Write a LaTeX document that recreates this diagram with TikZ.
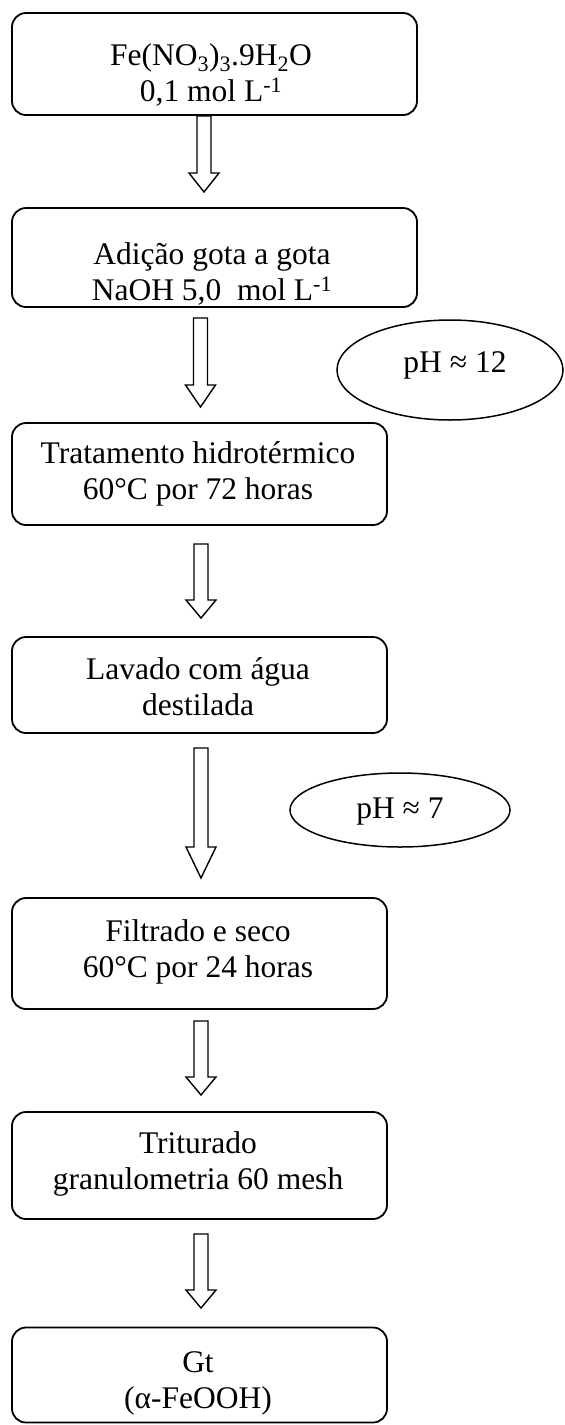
\documentclass[tikz,border=0pt]{standalone}
\usepackage{fontspec}
\setmainfont{Liberation Serif}
\usetikzlibrary{shapes.geometric}
\newcommand\blockarrow[4]{%
  \draw[arrowline] ({#1-7},#2) -- ({#1+7},#2) -- ({#1+7},#3) -- ({#1+15},#3)
    -- (#1,#4) -- ({#1-15},#3) -- ({#1-7},#3) -- cycle;}
\begin{document}
\begin{tikzpicture}[x=1pt,y=-1pt,
  stepbox/.style={draw, line width=1.8pt, rounded corners=14pt, inner sep=0pt},
  boxtext/.style={align=center, inner sep=0pt, font=\fontsize{31.5}{36}\selectfont},
  phellipse/.style={draw, ellipse, line width=1.5pt, inner sep=0pt},
  phtext/.style={inner sep=0pt, font=\fontsize{31.5}{36}\selectfont},
  arrowline/.style={draw, line width=1.4pt, line join=miter}]
\useasboundingbox (0,0) rectangle (565,1425);

% boxes
\node[stepbox, minimum width=405pt, minimum height=102pt] (b1) at (214.5,64) {};
\node[stepbox, minimum width=405pt, minimum height=99pt] (b2) at (214.5,257.5) {};
\node[stepbox, minimum width=375pt, minimum height=102pt] (b3) at (199.5,474) {};
\node[stepbox, minimum width=375pt, minimum height=96pt] (b4) at (199.5,685) {};
\node[stepbox, minimum width=375pt, minimum height=111pt] (b5) at (199.5,953.5) {};
\node[stepbox, minimum width=375pt, minimum height=107pt] (b6) at (199.5,1165.5) {};
\node[stepbox, minimum width=375pt, minimum height=95pt] (b7) at (199.5,1375) {};

% texts
\node[boxtext] (t1) at (211,75) {Fe(NO\textsubscript{3})\textsubscript{3}.9H\textsubscript{2}O\\0,1 mol L\textsuperscript{-1}};
\node[boxtext] (t2) at (212,274) {Adição gota a gota\\NaOH 5,0~ mol L\textsuperscript{-1}};
\node[boxtext] (t3) at (198,474) {Tratamento hidrotérmico\\60°C por 72 horas};
\node[boxtext] (t4) at (198,687) {Lavado com água\\destilada};
\node[boxtext] (t5) at (198,952) {Filtrado e seco\\60°C por 24 horas};
\node[boxtext] (t6) at (198,1163.5) {Triturado\\granulometria 60 mesh};
\node[boxtext] (t7) at (198,1383.5) {Gt\\(α-FeOOH)};

% ellipses
\node[phellipse, minimum width=226pt, minimum height=100pt] (e1) at (450,370) {};
\node[phtext] (p1) at (455,365) {pH ≈ 12};
\node[phellipse, minimum width=220pt, minimum height=74pt] (e2) at (400,810) {};
\node[phtext] (p2) at (400,812) {pH ≈ 7};

% block arrows
\blockarrow{204}{116}{173}{192}
\blockarrow{200.5}{318}{385}{407}
\blockarrow{201}{544}{600}{618}
\blockarrow{201}{748}{847}{878}
\blockarrow{201}{1021}{1077}{1095}
\blockarrow{201}{1234}{1290}{1308}
\end{tikzpicture}
\end{document}
